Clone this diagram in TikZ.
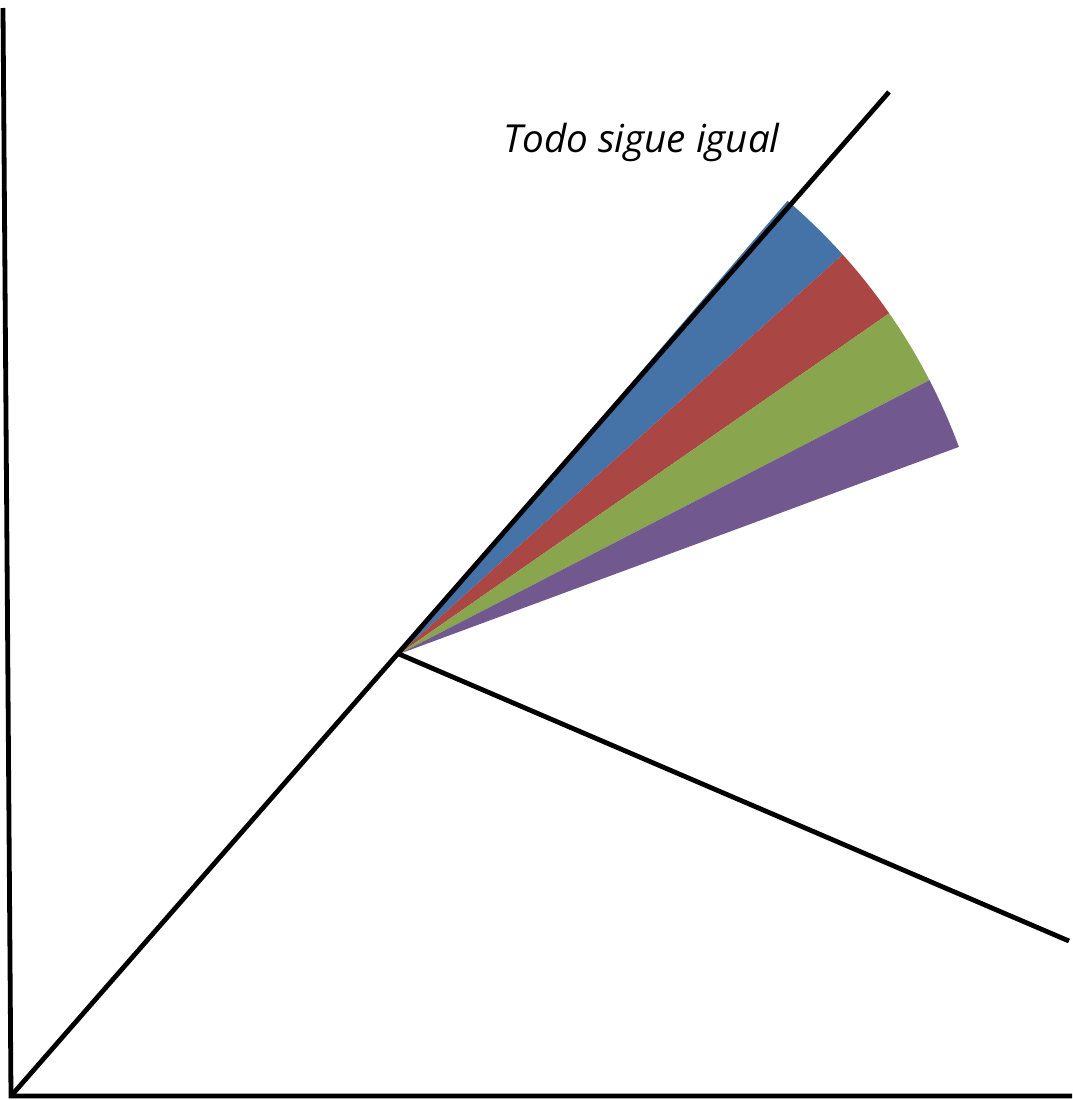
\documentclass[tikz,border=0pt]{standalone}
\usepackage{fontspec}
\setmainfont{Open Sans}
\definecolor{cblue}{HTML}{4572A7}
\definecolor{cred}{HTML}{AA4643}
\definecolor{cgreen}{HTML}{89A54E}
\definecolor{cpurple}{HTML}{71588F}
\tikzset{axisline/.style={line width=4.8pt, black}}
\begin{document}
\begin{tikzpicture}[x=1pt,y=-1pt]
\useasboundingbox (0,0) rectangle (1072,1100);
\coordinate (top) at (3,8);
\coordinate (origin) at (11,1096);
\coordinate (right) at (1072,1096);
\coordinate (diagend) at (889,92);
\coordinate (c) at (399,654);
\coordinate (lowend) at (1069,941);
% fan wedges (y axis down: negate angles)
\fill[cblue] (c) -- ++(-49.4:597) arc[start angle=-49.4, end angle=-42.0, radius=597] -- cycle;
\fill[cred] (c) -- ++(-42.0:597) arc[start angle=-42.0, end angle=-34.8, radius=597] -- cycle;
\fill[cgreen] (c) -- ++(-34.8:597) arc[start angle=-34.8, end angle=-27.3, radius=597] -- cycle;
\fill[cpurple] (c) -- ++(-27.3:597) arc[start angle=-27.3, end angle=-20.3, radius=597] -- cycle;
% axes and lines
\draw[axisline] (top) -- (origin) -- (right);
\draw[axisline] (origin) -- (diagend);
\draw[axisline] (c) -- (lowend);
\node[anchor=base west, inner sep=0, font=\fontsize{38.6}{44}\selectfont\itshape] (lbl) at (503,152) {Todo sigue igual};
\end{tikzpicture}
\end{document}
